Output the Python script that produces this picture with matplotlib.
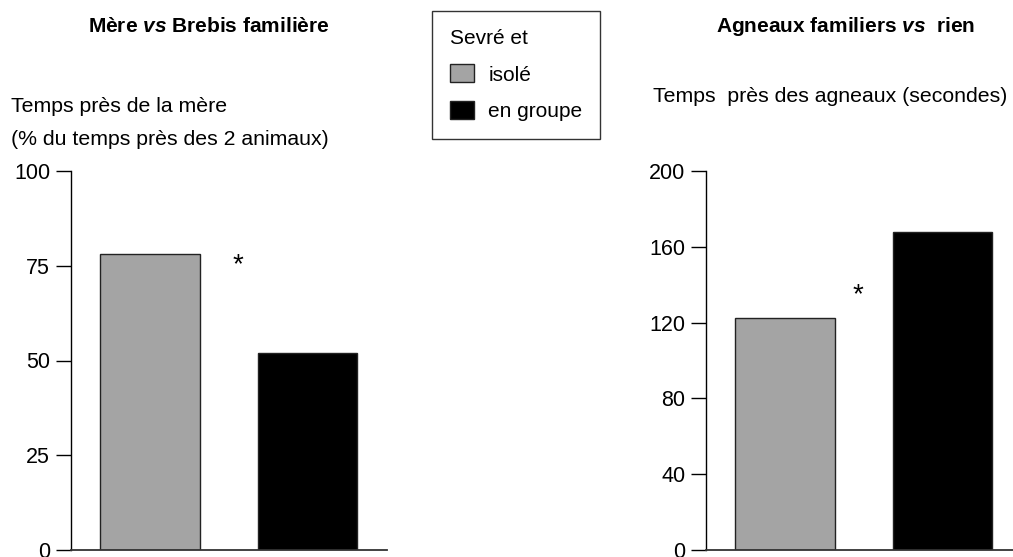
"""Bar charts: preference of weaned lambs (isolated vs grouped)."""
import matplotlib
matplotlib.use("Agg")
import matplotlib.pyplot as plt
from matplotlib.patches import Patch

plt.rcParams["font.family"] = ["Liberation Sans", "DejaVu Sans"]
plt.rcParams["mathtext.fontset"] = "custom"
plt.rcParams["mathtext.it"] = "Liberation Sans:italic:bold"
plt.rcParams["mathtext.rm"] = "Liberation Sans:bold"

GROUPS = ["isolé", "en groupe"]
COLORS = ["#a4a4a4", "#000000"]

# Mère vs Brebis familière: % of time near the mother
MERE_VALUES = [78.0, 52.0]
MERE_TICKS = [0, 25, 50, 75, 100]
MERE_STAR = 75.2

# Agneaux familiers vs rien: seconds near the lambs
AGNEAUX_VALUES = [122.4, 167.7]
AGNEAUX_TICKS = [0, 40, 80, 120, 160, 200]
AGNEAUX_STAR = 134.4

W, H = 1013, 557
fig = plt.figure(figsize=(W / 100, H / 100), dpi=100)

BAR_W = 0.63


def px_axes(x0, x1, y_top, y_bot):
    return fig.add_axes([x0 / W, (H - y_bot) / H, (x1 - x0) / W, (y_bot - y_top) / H])


def panel(ax, values, ticks, star_x, star_y, x_right):
    ax.bar(range(len(values)), values, width=BAR_W, color=COLORS,
           edgecolor="#222222", linewidth=1.0)
    ax.set_xlim(-0.502, x_right)
    ax.set_ylim(ticks[0], ticks[-1])
    ax.set_yticks(ticks)
    ax.set_xticks([])
    for side in ("top", "right"):
        ax.spines[side].set_visible(False)
    ax.spines["left"].set_linewidth(1.0)
    ax.spines["bottom"].set_linewidth(1.3)
    ax.spines["bottom"].set_color("#333333")
    ax.tick_params(axis="y", direction="out", length=11, width=1.0, labelsize=15.5, pad=4)
    ax.text(star_x, star_y, "*", ha="center", va="center", fontsize=20)
    ax.patch.set_alpha(0)


ax1 = px_axes(71, 387, 171, 550)
panel(ax1, MERE_VALUES, MERE_TICKS, 0.56, MERE_STAR, 1.505)

ax2 = px_axes(706, 1013, 171, 550)
panel(ax2, AGNEAUX_VALUES, AGNEAUX_TICKS, 0.46, AGNEAUX_STAR, 1.448)

# titles and axis labels
fig.text(209 / W, 1 - 32 / H, "Mère $\\it{vs}$ Brebis familière", ha="center",
         va="baseline", fontsize=15, fontweight="bold")
fig.text(846 / W, 1 - 32 / H, "Agneaux familiers $\\it{vs}$  rien", ha="center",
         va="baseline", fontsize=15, fontweight="bold")
fig.text(11 / W, 1 - 112 / H, "Temps près de la mère", ha="left", va="baseline", fontsize=15.3)
fig.text(11 / W, 1 - 145 / H, "(% du temps près des 2 animaux)", ha="left",
         va="baseline", fontsize=15.3)
fig.text(653 / W, 1 - 102 / H, "Temps  près des agneaux (secondes)", ha="left",
         va="baseline", fontsize=15.3)

# legend
handles = [Patch(facecolor=c, edgecolor="#222222", linewidth=1.0) for c in COLORS]
leg = fig.legend(handles, GROUPS, title="Sevré et", loc="upper left",
                 bbox_to_anchor=(432 / W, 1 - 11 / H), borderaxespad=0,
                 fontsize=15, title_fontsize=15,
                 frameon=True, fancybox=False, edgecolor="black", alignment="left",
                 handlelength=1.15, handleheight=0.96, handletextpad=0.7,
                 borderpad=0.85, labelspacing=0.8)
leg.get_frame().set_linewidth(1.0)

fig.savefig("out.png", dpi=100)
